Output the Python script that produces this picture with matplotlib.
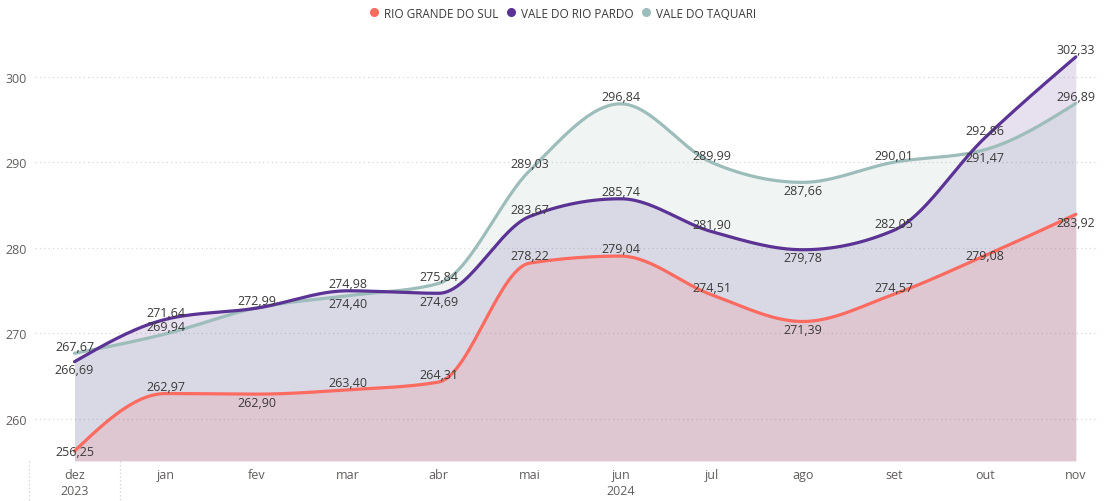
import matplotlib
matplotlib.use("Agg")
import matplotlib.pyplot as plt
import numpy as np
from matplotlib.lines import Line2D
import matplotlib.transforms as mtransforms

# ---------------------------------------------------------------- data
months = ['dez', 'jan', 'fev', 'mar', 'abr', 'mai', 'jun', 'jul', 'ago', 'set', 'out', 'nov']
years = {0: '2023', 6: '2024'}

rgs = [256.25, 262.97, 262.90, 263.40, 264.31, 278.22, 279.04, 274.51, 271.39, 274.57, 279.08, 283.92]
vrp = [266.69, 271.64, 272.95, 274.98, 274.69, 283.67, 285.74, 281.90, 279.78, 282.05, 292.86, 302.33]
vtq = [267.67, 269.94, 272.99, 274.40, 275.84, 289.03, 296.84, 289.99, 287.66, 290.01, 291.47, 296.89]

# label placement: 1 above, -1 below, 0 centred, None hidden
pos_rgs = [0, 1, -1, 1, 1, 1, 1, 1, -1, 1, 0, -1]
pos_vrp = [-1, 1, None, 1, -1, 1, 1, 1, -1, 1, 1, 1]
pos_vtq = [1, 1, 1, -1, 1, 1, 1, 1, -1, 1, -1, 1]

series = [
    ('RIO GRANDE DO SUL', rgs, '#FD6A5F', pos_rgs),
    ('VALE DO RIO PARDO', vrp, '#5B3394', pos_vrp),
    ('VALE DO TAQUARI', vtq, '#9DBDBA', pos_vtq),
]


def monotone(x, y, n=30):
    # monotone cubic (same idea as d3 curveMonotoneX)
    x = np.asarray(x, float)
    y = np.asarray(y, float)
    h = np.diff(x)
    s = np.diff(y) / h
    t = np.zeros_like(y)
    for i in range(1, len(y) - 1):
        p = (s[i-1] * h[i] + s[i] * h[i-1]) / (h[i-1] + h[i])
        t[i] = (np.sign(s[i-1]) + np.sign(s[i])) * min(abs(s[i-1]), abs(s[i]), 0.5 * abs(p))
    t[0] = (3 * s[0] - t[1]) / 2
    t[-1] = (3 * s[-1] - t[-2]) / 2
    xs, ys = [], []
    for i in range(len(y) - 1):
        u = np.linspace(0, 1, n, endpoint=False)
        h00 = 2*u**3 - 3*u**2 + 1
        h10 = u**3 - 2*u**2 + u
        h01 = -2*u**3 + 3*u**2
        h11 = u**3 - u**2
        xs.append(x[i] + u * h[i])
        ys.append(h00*y[i] + h10*h[i]*t[i] + h01*y[i+1] + h11*h[i]*t[i+1])
    xs.append([x[-1]])
    ys.append([y[-1]])
    return np.concatenate(xs), np.concatenate(ys)


plt.rcParams['font.family'] = ['Open Sans', 'DejaVu Sans']
fig = plt.figure(figsize=(11.05, 5.02), dpi=100)
ax = fig.add_axes([0.032, 0.080, 0.963, 0.840])

ymin = 255.1
xpos = np.arange(len(months))

for name, vals, col, pos in series[::-1]:
    xs, ys = monotone(xpos, vals)
    ax.fill_between(xs, ys, ymin, color=col, alpha=0.15, lw=0, zorder=1)

for name, vals, col, pos in series[::-1]:
    xs, ys = monotone(xpos, vals)
    ax.plot(xs, ys, color=col, lw=2.3, solid_capstyle='round', zorder=3)

for name, vals, col, pos in series:
    for i, (v, p) in enumerate(zip(vals, pos)):
        if p is None:
            continue
        txt = ('%.2f' % v).replace('.', ',')
        if p == 1:
            ax.annotate(txt, (i, v), xytext=(0, 0.5), textcoords='offset points',
                        ha='center', va='bottom', fontsize=9, color='#3B3A39', zorder=5)
        elif p == -1:
            ax.annotate(txt, (i, v), xytext=(0, -1), textcoords='offset points',
                        ha='center', va='top', fontsize=9, color='#3B3A39', zorder=5)
        else:
            ax.annotate(txt, (i, v), ha='center', va='center', fontsize=9,
                        color='#3B3A39', zorder=5)

ax.set_xlim(-0.43, 11.26)
ax.set_ylim(ymin, 304.4)
ax.set_yticks([260, 270, 280, 290, 300])
ax.set_xticks(xpos)
ax.set_xticklabels(months)
ax.tick_params(axis='both', length=0, labelsize=9, labelcolor='#605E5C')
ax.tick_params(axis='x', pad=5)
ax.tick_params(axis='y', pad=6)
ax.grid(axis='y', color='#D9D9D9', ls=(0, (1, 2.5)), lw=0.9)
ax.set_axisbelow(True)
for sp in ax.spines.values():
    sp.set_visible(False)

# year row and separators under the axis
trans = mtransforms.blended_transform_factory(ax.transData, ax.transAxes)
for i, yr in years.items():
    ax.text(i, -0.071, yr, transform=trans, ha='center', va='center',
            fontsize=9, color='#605E5C')
for xv in [-0.5, 0.5]:
    ax.add_line(Line2D([xv, xv], [0, -0.1], transform=trans, color='#D0D0D0',
                       ls=(0, (1, 2)), lw=0.9, clip_on=False))

handles = [Line2D([], [], marker='o', ls='none', markersize=5.5, color=c) for _, _, c, _ in series]
labels = [n for n, _, _, _ in series]
fig.legend(handles, labels, loc='center', bbox_to_anchor=(0.506, 0.972), ncol=3,
           frameon=False, handletextpad=-0.2, columnspacing=0.1,
           labelcolor='#3B3A39', fontsize=8.5)

fig.savefig('out.png', dpi=100)
